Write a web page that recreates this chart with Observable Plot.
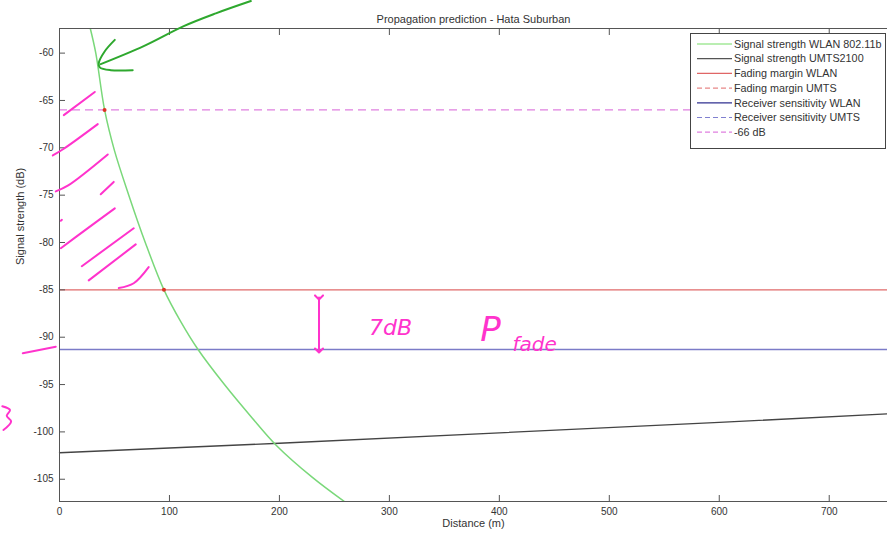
<!DOCTYPE html>
<html><head><meta charset="utf-8">
<script src="https://cdn.jsdelivr.net/npm/d3@7"></script>
<script src="https://cdn.jsdelivr.net/npm/@observablehq/plot@0.6"></script>
<style>body{margin:0;background:#fff}</style>
</head><body><div id="chart"></div>
<script>
// ---- chart data ----
const title = "Propagation prediction - Hata Suburban";
const xLabel = "Distance (m)";
const yLabel = "Signal strength (dB)";
const xTicks = [0, 100, 200, 300, 400, 500, 600, 700];
const yTicks = [-60, -65, -70, -75, -80, -85, -90, -95, -100, -105];

const wlanDist   = [28, 33, 41, 50, 63, 78, 95, 110, 126, 150, 175, 197, 230, 262];
const wlanSignal = [-57.4, -60, -66, -70.3, -75, -80, -85, -88.3, -91.3, -95.0, -98.5, -101.4, -104.8, -107.6];

const umtsDist   = [0, 200, 400, 600, 753];
const umtsSignal = [-102.2, -101.2, -100.1, -99.0, -98.1];

const fadingMarginWLAN = -85;
const receiverSensWLAN = -91.3;
const thresholdLevel = -66;

const crossDist   = [41, 95];
const crossSignal = [-66, -85];

const legendLabels = ["Signal strength WLAN 802.11b", "Signal strength UMTS2100", "Fading margin WLAN",
  "Fading margin UMTS", "Receiver sensitivity WLAN", "Receiver sensitivity UMTS", "-66 dB"];
const legendColors = ["#77dd66", "#555555", "#e06666", "#e88888", "#303090", "#8080d0", "#e080e0"];
const legendDashed = [false, false, false, true, false, true, true];

// ---- handwritten annotations (data units) ----
const penId = [1,1, 2,2,2, 3,3,3, 4,4, 5,5,5, 6,6, 7,7, 8,8,8, 9,9, 10,10, 11,11,11,11,11];
const penX  = [3.9,32.1, -6.1,3.9,34.8, -3.4,7.5,43.9, 37.5,49.3, 1.2,22.1,50.3, 20.3,67.5, 26.6,69.3, 53.9,67.5,81.1, 1.2,2.2, -33.4,-3.4, -52,-45,-48,-44,-51];
const penY  = [-66.55,-64.1, -70.8,-70.1,-67.5, -74.6,-74.0,-70.7, -74.9,-73.6, -80.6,-78.8,-76.4, -82.5,-78.5, -84.0,-80.2, -84.8,-84.3,-82.6, -77.7,-77.6, -91.7,-91.0, -97.3,-97.7,-98.3,-98.9,-99.8];
const greenId = [1,1,1,1,1, 2,2,2,2,2,2];
const greenX  = [174,142.2,113,76.6,37.5, 50.3,41.2,35.7,36.6,46.6,66.6];
const greenY  = [-54.5,-55.8,-57.15,-59.26,-61.16, -58.6,-59.8,-61.06,-61.5,-61.8,-61.8];
const fadeArrowX = [236, 236];
const fadeArrowY = [-85.8, -91.4];
const noteText = ["7dB", "P", "fade"];
const noteX = [301, 392, 432];
const noteY = [-89.0, -89.3, -90.8];
const noteSize = [22, 34, 20];

// ---- build ----
const wlan = wlanDist.map((d, i) => ({d, s: wlanSignal[i]}));
const umts = umtsDist.map((d, i) => ({d, s: umtsSignal[i]}));
const crosses = crossDist.map((d, i) => ({d, s: crossSignal[i]}));
const pen = penId.map((id, i) => ({id, x: penX[i], y: penY[i]}));
const greenPen = greenId.map((id, i) => ({id, x: greenX[i], y: greenY[i]}));
const notes = noteText.map((t, i) => ({t, x: noteX[i], y: noteY[i], s: noteSize[i]}));

const axisColor = "#555";
const plot = Plot.plot({
  width: 887, height: 534,
  marginLeft: 59, marginRight: 0, marginTop: 28, marginBottom: 33,
  style: {fontFamily: "'Liberation Sans', Arial, sans-serif", fontSize: "10px", color: "#333", background: "#fff", overflow: "visible"},
  x: {domain: [0, 753], label: null},
  y: {domain: [-107.35, -57.4], label: null},
  marks: [
    Plot.ruleY([thresholdLevel], {stroke: "#e080e0", strokeDasharray: "8,5", strokeWidth: 1.3}),
    Plot.ruleY([fadingMarginWLAN], {stroke: "#e06a6a", strokeWidth: 1.3}),
    Plot.ruleY([receiverSensWLAN], {stroke: "#7b7bc8", strokeWidth: 1.5}),
    Plot.line(umts, {x: "d", y: "s", stroke: "#444", strokeWidth: 1.3}),
    Plot.line(wlan, {x: "d", y: "s", stroke: "#7ad87a", strokeWidth: 1.5, curve: "catmull-rom", clip: true}),
    Plot.dot(crosses, {x: "d", y: "s", r: 2, fill: "#dd3322"}),
    // frame lines
    Plot.ruleX([0], {stroke: axisColor}),
    Plot.ruleY([-57.4], {stroke: axisColor}),
    Plot.ruleY([-107.35], {stroke: axisColor}),
    Plot.axisX({anchor: "bottom", ticks: xTicks, tickSize: -6, tickPadding: 12, stroke: axisColor, fill: "#333"}),
    Plot.axisX({anchor: "top", ticks: xTicks, tickSize: -6, tickFormat: () => "", stroke: axisColor}),
    Plot.axisY({anchor: "left", ticks: yTicks, tickSize: -6, tickPadding: 12, stroke: axisColor, fill: "#333", tickFormat: d => String(d)}),
    Plot.text([title], {frameAnchor: "top", dy: -13, fill: "#333", fontSize: 11}),
    Plot.text([xLabel], {frameAnchor: "bottom", dy: 25, fill: "#333", fontSize: 11}),
    Plot.text([yLabel], {frameAnchor: "left", dx: -39, rotate: -90, fill: "#333", fontSize: 11}),
    // annotations
    Plot.line(pen, {x: "x", y: "y", z: "id", stroke: "#ff33cc", strokeWidth: 2, curve: "catmull-rom", clip: false}),
    Plot.line(greenPen, {x: "x", y: "y", z: "id", stroke: "#2ea82e", strokeWidth: 2, curve: "catmull-rom", clip: false}),
    Plot.line(fadeArrowX.map((x, i) => ({x, y: fadeArrowY[i]})), {x: "x", y: "y", stroke: "#ff33cc", strokeWidth: 2, marker: "arrow"}),
    Plot.text(notes, {x: "x", y: "y", text: "t", fontSize: "s", fill: "#ff33cc", fontStyle: "italic", fontFamily: "'DejaVu Sans', sans-serif"})
  ]
});

const svg = d3.select(plot);
const lg = svg.append("g").attr("font-family", "'Liberation Sans', Arial, sans-serif")
  .attr("font-size", 10.8).attr("text-anchor", "start");
lg.append("rect").attr("x", 690.5).attr("y", 33.5).attr("width", 195).attr("height", 115)
  .attr("fill", "#fff").attr("stroke", "#444");
legendLabels.forEach((lab, i) => {
  const y = 44 + i * 14.7;
  lg.append("line").attr("x1", 697).attr("x2", 732).attr("y1", y).attr("y2", y)
    .attr("stroke", legendColors[i]).attr("stroke-width", 1.2)
    .attr("stroke-dasharray", legendDashed[i] ? "5,3" : null);
  lg.append("text").attr("x", 734).attr("y", y).attr("dy", "0.35em").attr("fill", "#333")
    .attr("text-anchor", "start").text(lab);
});
document.getElementById("chart").appendChild(plot);
</script>
</body></html>
